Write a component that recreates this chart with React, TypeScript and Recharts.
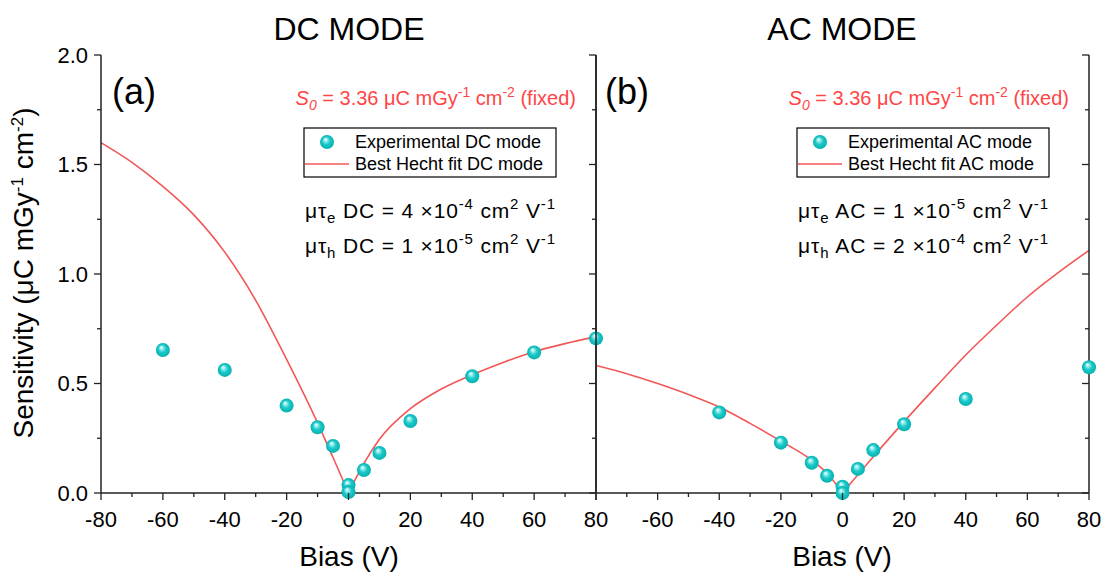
import React from 'react';
import { ComposedChart, Scatter, Line, XAxis, YAxis } from 'recharts';

const FONT = '"Liberation Sans", Arial, sans-serif';
const RED = '#f25757';
const AXIS = '#222';

// tick positions
const xTicks = [-80, -70, -60, -50, -40, -30, -20, -10, 0, 10, 20, 30, 40, 50, 60, 70, 80];
const yTicks = [0, 0.25, 0.5, 0.75, 1, 1.25, 1.5, 1.75, 2];

// measured points, DC mode
const dcBias = [-60, -40, -20, -10, -5, 0, 0, 5, 10, 20, 40, 60, 80];
const dcSens = [0.653, 0.562, 0.399, 0.3, 0.215, 0.036, 0.004, 0.105, 0.183, 0.329, 0.533, 0.642, 0.706];

// measured points, AC mode
const acBias = [-40, -20, -10, -5, 0, 0, 5, 10, 20, 40, 80];
const acSens = [0.368, 0.23, 0.138, 0.079, 0.029, 0.0, 0.11, 0.196, 0.314, 0.429, 0.574];

// Hecht fit curves (negative and positive branch)
const fitBiasNeg = [-80, -70, -60, -50, -40, -30, -20, -10, -5, 0];
const fitBiasPos = [0, 2.5, 5, 10, 20, 30, 40, 50, 60, 70, 80];
const dcFitNeg = [1.6, 1.51, 1.4, 1.27, 1.1, 0.88, 0.61, 0.32, 0.162, 0];
const dcFitPos = [0, 0.07, 0.135, 0.245, 0.385, 0.475, 0.54, 0.596, 0.645, 0.682, 0.714];
const acFitNeg = [0.582, 0.545, 0.5, 0.45, 0.393, 0.318, 0.237, 0.15, 0.09, 0];
const acFitPos = [0, 0.042, 0.083, 0.166, 0.326, 0.48, 0.63, 0.766, 0.895, 1.006, 1.108];

const zip = (xs: number[], ys: number[]) => xs.map((x, i) => ({ x, y: ys[i] }));

const Sphere = (p: any) => <circle cx={p.cx} cy={p.cy} r={7} fill="url(#ball)" />;

const isMajorX = (v: number) => Math.abs(v % 20) < 1e-9;
const isMajorY = (v: number) => Math.abs(v % 0.5) < 1e-9;

const BottomTick = (p: any, hideFirst: boolean) => {
  const v = p.payload.value;
  const major = isMajorX(v);
  const showLabel = major && !(hideFirst && v === -80);
  return (
    <g>
      <line x1={p.x} x2={p.x} y1={p.y} y2={p.y + (major ? 7 : 4)} stroke={AXIS} strokeWidth={1.3} />
      {showLabel && (
        <text x={p.x} y={p.y + 34} textAnchor="middle" fontSize={22} fontFamily={FONT} fill="#000">
          {v}
        </text>
      )}
    </g>
  );
};

const TopTick = (p: any) => {
  const major = isMajorX(p.payload.value);
  return <line x1={p.x} x2={p.x} y1={p.y} y2={p.y + (major ? 7 : 4)} stroke={AXIS} strokeWidth={1.3} />;
};

const LeftTick = (p: any) => {
  const v = p.payload.value;
  const major = isMajorY(v);
  return (
    <g>
      <line x1={p.x} x2={p.x - (major ? 7 : 4)} y1={p.y} y2={p.y} stroke={AXIS} strokeWidth={1.3} />
      {major && (
        <text x={p.x - 13} y={p.y} dy="0.36em" textAnchor="end" fontSize={22} fontFamily={FONT} fill="#000">
          {v.toFixed(1)}
        </text>
      )}
    </g>
  );
};

const RightTick = (p: any) => {
  const major = isMajorY(p.payload.value);
  return <line x1={p.x} x2={p.x - (major ? 7 : 4)} y1={p.y} y2={p.y} stroke={AXIS} strokeWidth={1.3} />;
};

const axisLine = { stroke: AXIS, strokeWidth: 1.5 };

type PanelProps = {
  left: number;
  width: number;
  marginLeft: number;
  rightWidth: number;
  points: { x: number; y: number }[];
  fitNeg: { x: number; y: number }[];
  fitPos: { x: number; y: number }[];
  yLabels: boolean;
  hideFirstX: boolean;
};

const Panel = ({ left, width, marginLeft, rightWidth, points, fitNeg, fitPos, yLabels, hideFirstX }: PanelProps) => (
  <div style={{ position: 'absolute', left, top: 0 }}>
    <ComposedChart width={width} height={576} margin={{ top: 55, right: 4, bottom: 43, left: marginLeft }}>
      <XAxis
        xAxisId="b"
        type="number"
        dataKey="x"
        domain={[-80, 80]}
        ticks={xTicks}
        interval={0}
        height={40}
        tickSize={0}
        tickMargin={0}
        tickLine={false}
        axisLine={axisLine}
        tick={(p: any) => BottomTick(p, hideFirstX)}
      />
      <XAxis
        xAxisId="t"
        orientation="top"
        type="number"
        dataKey="x"
        domain={[-80, 80]}
        ticks={xTicks}
        interval={0}
        height={0}
        tickSize={0}
        tickMargin={0}
        tickLine={false}
        axisLine={axisLine}
        tick={TopTick}
      />
      <YAxis
        yAxisId="l"
        type="number"
        dataKey="y"
        domain={[0, 2]}
        ticks={yTicks}
        interval={0}
        width={60}
        tickSize={0}
        tickMargin={0}
        tickLine={false}
        axisLine={axisLine}
        tick={yLabels ? LeftTick : false}
      />
      <YAxis
        yAxisId="r"
        orientation="right"
        type="number"
        dataKey="y"
        domain={[0, 2]}
        ticks={yTicks}
        interval={0}
        width={rightWidth}
        tickSize={0}
        tickMargin={0}
        tickLine={false}
        axisLine={axisLine}
        tick={RightTick}
      />
      <Line data={fitNeg} xAxisId="t" yAxisId="r" dataKey="y" type="monotone" stroke={RED} strokeWidth={1.6} dot={false} activeDot={false} isAnimationActive={false} />
      <Line data={fitPos} xAxisId="t" yAxisId="r" dataKey="y" type="monotone" stroke={RED} strokeWidth={1.6} dot={false} activeDot={false} isAnimationActive={false} />
      <Scatter data={points} xAxisId="b" yAxisId="l" dataKey="y" shape={Sphere} isAnimationActive={false} />
    </ComposedChart>
  </div>
);

// rich text: each segment has a vertical offset s (negative = up)
type Seg = { t: string; s?: number; size?: number; it?: boolean };
const Rich = ({ segs }: { segs: Seg[] }) => {
  let prev = 0;
  return (
    <>
      {segs.map((g, i) => {
        const s = g.s || 0;
        const dy = s - prev;
        prev = s;
        return (
          <tspan key={i} dy={dy} fontSize={g.size} fontStyle={g.it ? 'italic' : undefined}>
            {g.t}
          </tspan>
        );
      })}
    </>
  );
};

const Annotations = ({ cx, tag, mode }: { cx: number; tag: string; mode: string }) => {
  const off = cx - 349;
  const mtE = mode === 'DC' ? ['4', '-4'] : ['1', '-5'];
  const mtH = mode === 'DC' ? ['1', '-5'] : ['2', '-4'];
  const mt = (sub: string, v: string[]): Seg[] => [
    { t: 'μτ' },
    { t: sub, s: 5, size: 15 },
    { t: ` ${mode} = ${v[0]} ×10` },
    { t: v[1], s: -9, size: 15 },
    { t: ' cm' },
    { t: '2', s: -9, size: 15 },
    { t: ' V' },
    { t: '-1', s: -9, size: 15 },
  ];
  return (
    <g fontFamily={FONT}>
      <text x={cx} y={40} textAnchor="middle" fontSize={32} fill="#000">{mode} MODE</text>
      <text x={112 + off} y={104} fontSize={36} fill="#000">{tag}</text>
      <text x={576 + off} y={105} textAnchor="end" fontSize={20} fill="#ff4545">
        <Rich
          segs={[
            { t: 'S', it: true },
            { t: '0', s: 5, size: 14, it: true },
            { t: ' = 3.36 μC mGy' },
            { t: '-1', s: -8, size: 14 },
            { t: ' cm' },
            { t: '-2', s: -8, size: 14 },
            { t: ' (fixed)' },
          ]}
        />
      </text>
      <rect x={304 + off} y={128} width={252} height={49} fill="#fff" stroke="#000" strokeWidth={1.2} />
      <circle cx={327 + off} cy={142} r={7} fill="url(#ball)" />
      <line x1={305 + off} x2={349 + off} y1={164} y2={164} stroke={RED} strokeWidth={1.6} />
      <text x={355 + off} y={148} fontSize={18} fill="#000">Experimental {mode} mode</text>
      <text x={355 + off} y={170} fontSize={18} fill="#000">Best Hecht fit {mode} mode</text>
      <text x={305 + off} y={218} fontSize={21} fill="#000" textLength={250} lengthAdjust="spacing">
        <Rich segs={mt('e', mtE)} />
      </text>
      <text x={305 + off} y={253} fontSize={21} fill="#000" textLength={250} lengthAdjust="spacing">
        <Rich segs={mt('h', mtH)} />
      </text>
      <text x={cx} y={566} textAnchor="middle" fontSize={28} fill="#000">Bias (V)</text>
    </g>
  );
};

export default function App() {
  return (
    <div style={{ position: 'absolute', left: 0, top: 0, width: 1107, height: 576, background: '#fff', overflow: 'hidden' }}>
      <svg width={0} height={0} style={{ position: 'absolute' }}>
        <defs>
          <radialGradient id="ball" cx="50%" cy="50%" r="50%" fx="38%" fy="30%">
            <stop offset="0%" stopColor="#ffffff" />
            <stop offset="22%" stopColor="#9aeeee" />
            <stop offset="55%" stopColor="#1cc9c9" />
            <stop offset="100%" stopColor="#06b0b0" />
          </radialGradient>
        </defs>
      </svg>
      <Panel
        left={0}
        width={620}
        marginLeft={41}
        rightWidth={20}
        points={zip(dcBias, dcSens)}
        fitNeg={zip(fitBiasNeg, dcFitNeg)}
        fitPos={zip(fitBiasPos, dcFitPos)}
        yLabels
        hideFirstX={false}
      />
      <Panel
        left={536}
        width={571}
        marginLeft={0}
        rightWidth={14}
        points={zip(acBias, acSens)}
        fitNeg={zip(fitBiasNeg, acFitNeg)}
        fitPos={zip(fitBiasPos, acFitPos)}
        yLabels={false}
        hideFirstX
      />
      <svg width={1107} height={576} style={{ position: 'absolute', left: 0, top: 0, pointerEvents: 'none' }}>
        <Annotations cx={349} tag="(a)" mode="DC" />
        <Annotations cx={842} tag="(b)" mode="AC" />
        <text
          transform="translate(33,273) rotate(-90)"
          textAnchor="middle"
          fontFamily={FONT}
          fontSize={28}
          fill="#000"
        >
          <Rich
            segs={[
              { t: 'Sensitivity (μC mGy' },
              { t: '-1', s: -10, size: 17 },
              { t: ' cm' },
              { t: '-2', s: -10, size: 17 },
              { t: ')' },
            ]}
          />
        </text>
      </svg>
    </div>
  );
}
